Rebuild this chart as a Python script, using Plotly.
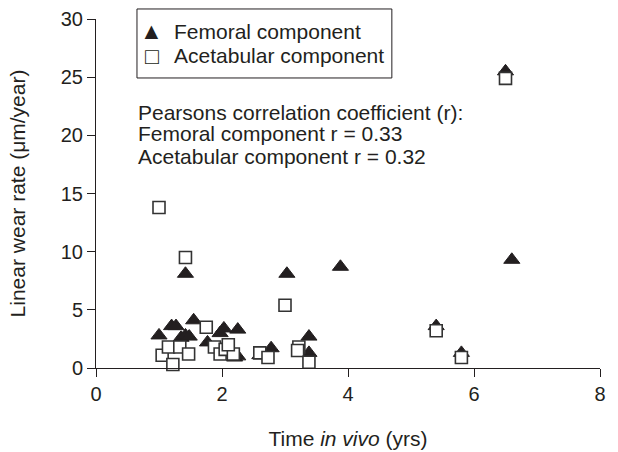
import plotly.graph_objects as go

# Femoral component (filled triangles)
fem_x = [1.0, 1.2, 1.27, 1.35, 1.42, 1.42, 1.48, 1.55, 1.77, 1.97, 2.03, 2.25, 2.2, 2.25,
         2.6, 2.78, 3.03, 3.38, 3.38, 3.88, 5.4, 5.8, 6.5, 6.6]
fem_y = [2.8, 3.6, 3.6, 2.6, 8.1, 2.8, 2.7, 4.1, 2.2, 3.0, 3.4, 3.3, 0.9, 1.0,
         1.1, 1.7, 8.1, 2.7, 1.3, 8.7, 3.6, 1.3, 25.5, 9.3]

# Acetabular component (open squares)
ace_x = [1.0, 1.05, 1.22, 1.15, 1.33, 1.42, 1.47, 1.75, 1.88, 1.97, 2.05, 2.18, 2.1,
         2.6, 2.73, 3.0, 3.22, 3.2, 3.38, 5.4, 5.8, 6.5]
ace_y = [13.8, 1.1, 0.3, 1.8, 1.8, 9.5, 1.2, 3.5, 1.8, 1.2, 1.6, 1.2, 2.0,
         1.3, 0.9, 5.4, 1.8, 1.5, 0.5, 3.2, 0.9, 24.9]

x_ticks = [0, 2, 4, 6, 8]
y_ticks = [0, 5, 10, 15, 20, 25, 30]

series_names = ["Femoral component", "Acetabular component"]
legend_glyphs = ["▲", "□"]

stats_lines = [
    "Pearsons correlation coefficient (r):",
    "Femoral component r = 0.33",
    "Acetabular component r = 0.32",
]

ink = "#231f20"
font_family = "Liberation Sans, Arial, sans-serif"

fig = go.Figure()
fig.add_trace(go.Scatter(
    x=fem_x, y=fem_y, mode="markers", name=series_names[0],
    marker=dict(symbol="triangle-up", size=14, color=ink, line=dict(color=ink, width=1)),
    cliponaxis=False, showlegend=False,
))
fig.add_trace(go.Scatter(
    x=ace_x, y=ace_y, mode="markers", name=series_names[1],
    marker=dict(symbol="square", size=12, color="white", line=dict(color="#333333", width=1.6)),
    cliponaxis=False, showlegend=False,
))

# Legend box drawn as a framed key (glyph + label per series)
fig.add_shape(
    type="rect", xref="paper", yref="paper",
    x0=0.0813, x1=0.587, y0=0.831, y1=1.0287,
    line=dict(color=ink, width=1), fillcolor="white", layer="below",
)
legend_rows = [0.9656, 0.894]
for glyph, name, yy in zip(legend_glyphs, series_names, legend_rows):
    fig.add_annotation(
        x=0.111, y=yy, xref="paper", yref="paper", xanchor="center", yanchor="middle",
        text=glyph, showarrow=False, borderpad=0,
        font=dict(family=font_family, size=23, color=ink),
    )
    fig.add_annotation(
        x=0.1528, y=yy, xref="paper", yref="paper", xanchor="left", yanchor="middle",
        text=name, showarrow=False, align="left", borderpad=0,
        font=dict(family=font_family, size=21, color=ink),
    )

stats_rows = [0.7335, 0.6705, 0.6074]
for line, yy in zip(stats_lines, stats_rows):
    fig.add_annotation(
        x=0.0813, y=yy, xref="paper", yref="paper",
        xanchor="left", yanchor="middle",
        text=line, showarrow=False, align="left", borderpad=0,
        font=dict(family=font_family, size=21, color=ink),
    )

fig.update_layout(
    width=618, height=452,
    margin=dict(l=96, r=18, t=19, b=84, autoexpand=False),
    paper_bgcolor="white", plot_bgcolor="white",
    font=dict(family=font_family, size=20, color=ink),
    showlegend=False,
    xaxis=dict(
        range=[0, 8], tickvals=x_ticks, ticks="outside", ticklen=8, tickcolor=ink,
        showline=True, linecolor=ink, linewidth=1, showgrid=False, zeroline=False,
        automargin=False,
        tickfont=dict(size=20, color=ink),
        title=dict(text="Time <i>in vivo</i> (yrs)", font=dict(size=21, color=ink), standoff=27),
    ),
    yaxis=dict(
        range=[0, 30], tickvals=y_ticks, ticks="outside", ticklen=8, tickcolor=ink,
        showline=True, linecolor=ink, linewidth=1, showgrid=False, zeroline=False,
        automargin=False,
        tickfont=dict(size=20, color=ink),
        title=dict(text="Linear wear rate (μm/year)", font=dict(size=21, color=ink), standoff=29),
    ),
)

fig.write_html("out.html")
